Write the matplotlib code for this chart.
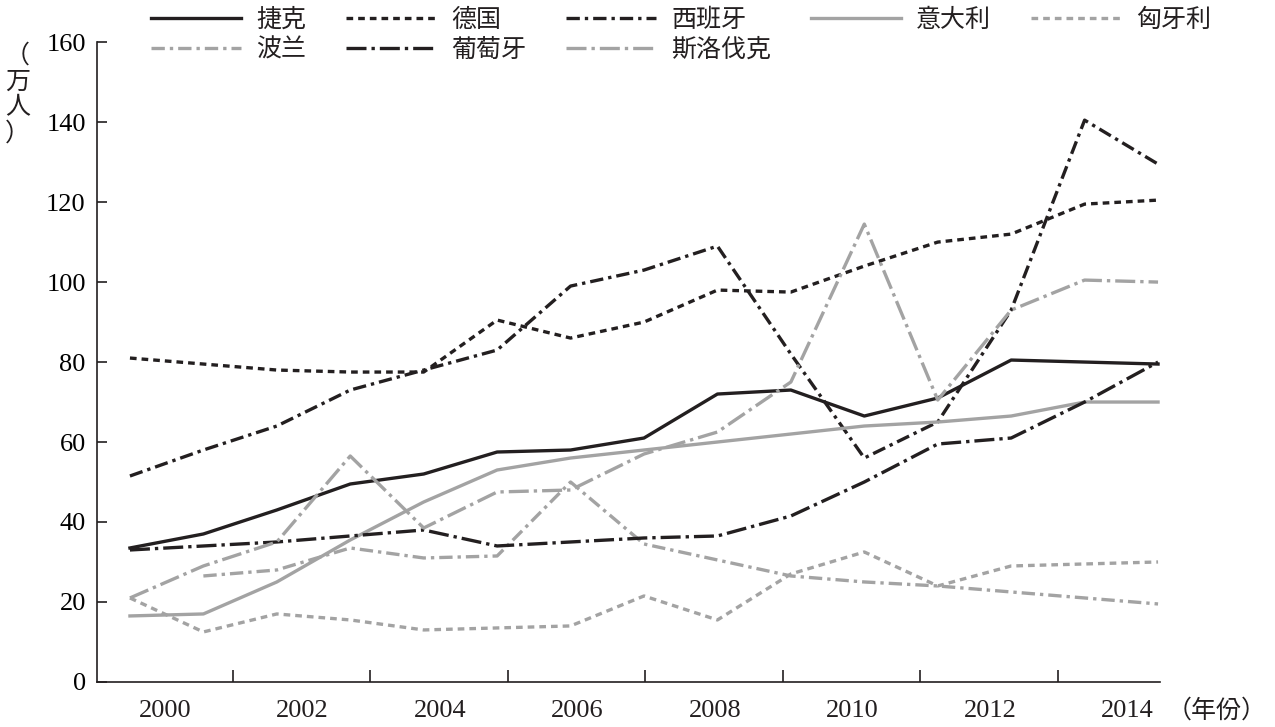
import numpy as np
import matplotlib.pyplot as plt
from matplotlib import font_manager

# --- Data (万人), 15 points ---
czech    = [33.5, 37, 43, 49.5, 52, 57.5, 58, 61, 72, 73, 66.5, 71, 80.5, 80, 79.5]
germany  = [81, 79.5, 78, 77.5, 77.5, 90.5, 86, 90, 98, 97.5, 104, 110, 112, 119.5, 120.5]
spain    = [51.5, 58, 64, 73, 78, 83, 99, 103, 109, 82, 56, 65, 93, 140.5, 129.5]
italy    = [16.5, 17, 25, 35.5, 45, 53, 56, 58, 60, 62, 64, 65, 66.5, 70, 70]
hungary  = [21, 12.5, 17, 15.5, 13, 13.5, 14, 21.5, 15.5, 27, 32.5, 24, 29, 29.5, 30]
poland   = [np.nan, 26.5, 28, 33.5, 31, 31.5, 50, 34.5, 30.5, 26.5, 25, 24, 22.5, 21, 19.5]
portugal = [33, 34, 35, 36.5, 38, 34, 35, 36, 36.5, 41.5, 50, 59.5, 61, 70, 80]
slovakia = [21, 29, 35, 56.5, 38.5, 47.5, 48, 57, 62.5, 75, 114.5, 70.5, 93, 100.5, 100]

year_labels = ['2000', '2002', '2004', '2006', '2008', '2010', '2012', '2014']
y_ticks = [0, 20, 40, 60, 80, 100, 120, 140, 160]

BLACK = '#231f20'
GRAY = '#a3a3a3'
SERIF = 'Liberation Serif'

# find an installed CJK font by name
cjk_names = sorted({f.name for f in font_manager.fontManager.ttflist if 'CJK' in f.name})
CJK = next((n for n in cjk_names if n.endswith('SC')), cjk_names[0] if cjk_names else 'DejaVu Sans')
print(cjk_names, CJK)

x = np.arange(len(czech))

fig = plt.figure(figsize=(12.75, 7.27), dpi=100)
ax = fig.add_axes([0.076, 0.062, 0.834, 0.88])

lw = 2.4
h = {}
h['捷克'], = ax.plot(x, czech, color=BLACK, lw=lw)
h['德国'], = ax.plot(x, germany, color=BLACK, lw=lw, ls=(0, (2, 1.5)))
h['西班牙'], = ax.plot(x, spain, color=BLACK, lw=lw, ls=(0, (4, 1.5, 1, 1.5)))
h['意大利'], = ax.plot(x, italy, color=GRAY, lw=lw)
h['匈牙利'], = ax.plot(x, hungary, color=GRAY, lw=lw, ls=(0, (2, 1.5)))
h['波兰'], = ax.plot(x, poland, color=GRAY, lw=lw, ls=(0, (4, 1.5, 1, 1.5)))
h['葡萄牙'], = ax.plot(x, portugal, color=BLACK, lw=lw, ls=(0, (6, 1.5, 1, 1.5)))
h['斯洛伐克'], = ax.plot(x, slovakia, color=GRAY, lw=lw, ls=(0, (6, 1.5, 1, 1.5)))

ax.set_xlim(-0.45, 14.03)
ax.set_ylim(0, 160)
for s in ['top', 'right']:
    ax.spines[s].set_visible(False)
for s in ['left', 'bottom']:
    ax.spines[s].set_color(BLACK)
    ax.spines[s].set_linewidth(1.2)

ax.set_yticks(y_ticks)
ax.set_yticklabels([str(v) for v in y_ticks], fontfamily=SERIF, fontsize=19)
ax.tick_params(axis='y', direction='in', length=7, width=1.2, color=BLACK, pad=8)

# x: ticks sit between the year labels
ax.set_xticks([1.40 + 1.872 * k for k in range(7)])
ax.set_xticklabels([])
ax.tick_params(axis='x', direction='in', length=9, width=1.2, color=BLACK)
for k, lab in enumerate(year_labels):
    ax.text(0.48 + 1.872 * k, -4.5, lab, ha='center', va='top',
            fontfamily=SERIF, fontsize=19, color=BLACK)
ax.text(14.12, -4.0, '（年份）', ha='left', va='top', fontfamily=CJK,
        fontsize=18, color=BLACK, clip_on=False)

fig.text(0.004, 0.87, '（\n万\n人\n）', ha='left', va='center', fontfamily=CJK,
         fontsize=18, color=BLACK, linespacing=1.0)

# column-major order so rows read 捷克 德国 西班牙 意大利 匈牙利 / 波兰 葡萄牙 斯洛伐克
order = ['捷克', '波兰', '德国', '葡萄牙', '西班牙', '斯洛伐克', '意大利', '匈牙利']
leg = ax.legend([h[k] for k in order], order, loc='upper left',
                bbox_to_anchor=(0.03, 1.09), ncol=5, frameon=False,
                prop={'family': CJK, 'size': 18}, handlelength=3.6,
                columnspacing=1.6, handletextpad=0.6, labelspacing=0.15)
for t in leg.get_texts():
    t.set_color(BLACK)

fig.savefig('out.png', dpi=100)
